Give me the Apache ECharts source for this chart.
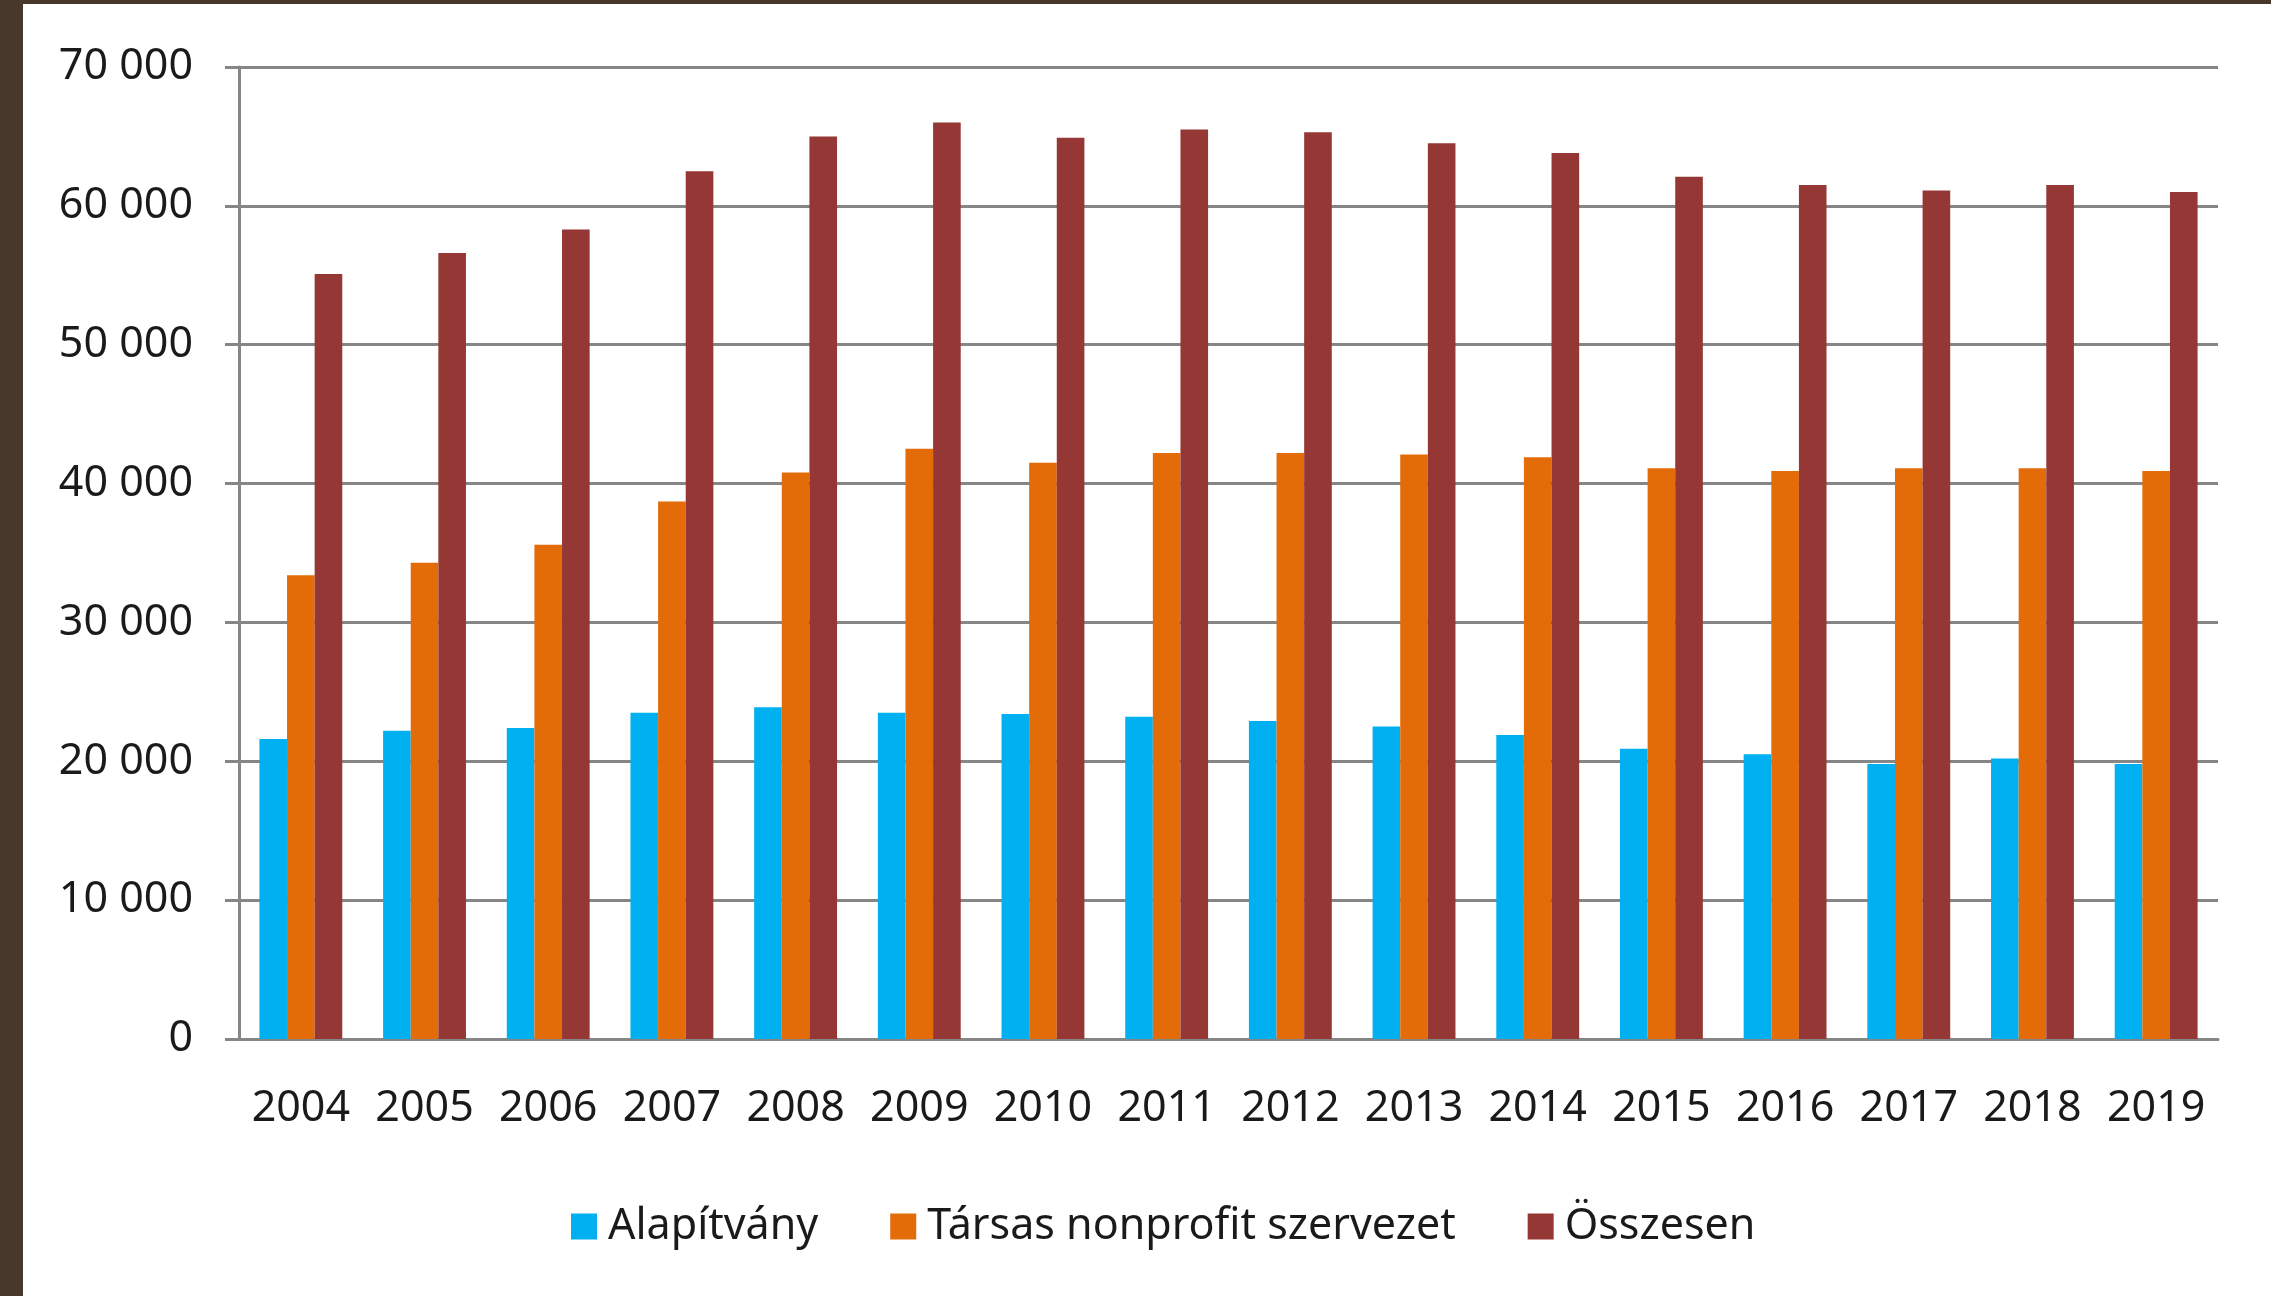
<!DOCTYPE html>
<html lang="hu">
<head>
<meta charset="utf-8">
<title>Nonprofit szervezetek</title>
<script src="https://cdn.jsdelivr.net/npm/echarts@6/dist/echarts.min.js"></script>
<style>
  html, body { margin: 0; padding: 0; background: #ffffff; }
  #frame {
    width: 2271px; height: 1296px; box-sizing: border-box;
    border-left: 23px solid #48382c; border-top: 4px solid #48382c;
  }
  #main { width: 2248px; height: 1292px; }
</style>
</head>
<body>
<div id="frame"><div id="main"></div></div>
<script>
// evek
var years = ['2004', '2005', '2006', '2007', '2008', '2009', '2010', '2011',
             '2012', '2013', '2014', '2015', '2016', '2017', '2018', '2019'];

var alapitvany = [21600, 22200, 22400, 23500, 23900, 23500, 23400, 23200,
                  22900, 22500, 21900, 20900, 20500, 19800, 20200, 19800];

var tarsas = [33400, 34300, 35600, 38700, 40800, 42500, 41500, 42200,
              42200, 42100, 41900, 41100, 40900, 41100, 41100, 40900];

var osszesen = [55100, 56600, 58300, 62500, 65000, 66000, 64900, 65500,
                65300, 64500, 63800, 62100, 61500, 61100, 61500, 61000];

var seriesNames = ['Alapítvány', 'Társas nonprofit szervezet', 'Összesen'];
var colors = ['#00b0f0', '#e36c09', '#953735'];

var font = "'Noto Sans', sans-serif";

function fmt(v) {
    return String(v).replace(/\B(?=(\d{3})+(?!\d))/g, ' ');
}

var myChart = echarts.init(document.getElementById('main'));

var option = {
    animation: false,
    backgroundColor: '#ffffff',
    color: colors,
    textStyle: { fontFamily: font },
    grid: { left: 216, right: 53, top: 63, bottom: 257 },
    legend: {
        left: 543,
        top: 1196,
        itemWidth: 26,
        itemHeight: 26,
        itemGap: 72,
        icon: 'rect',
        textStyle: { fontFamily: font, fontSize: 43, color: '#1a1a1a', padding: [0, 0, 0, 6] },
        data: seriesNames
    },
    xAxis: {
        type: 'category',
        data: years,
        axisLine: { lineStyle: { color: '#868686', width: 3 } },
        axisTick: { length: 18, lineStyle: { color: '#868686', width: 3 } },
        axisLabel: { interval: 0, margin: 48, fontSize: 43, color: '#1a1a1a', fontFamily: font }
    },
    yAxis: {
        type: 'value',
        min: 0,
        max: 70000,
        interval: 10000,
        axisLine: { show: true, lineStyle: { color: '#868686', width: 3 } },
        axisTick: { show: true, length: 14, lineStyle: { color: '#868686', width: 3 } },
        splitLine: { lineStyle: { color: '#868686', width: 3 } },
        axisLabel: { margin: 46, fontSize: 43, color: '#1a1a1a', fontFamily: font, formatter: fmt }
    },
    series: [
        { name: seriesNames[0], type: 'bar', data: alapitvany, barGap: '0%', barCategoryGap: '33%' },
        { name: seriesNames[1], type: 'bar', data: tarsas, barGap: '0%', barCategoryGap: '33%' },
        { name: seriesNames[2], type: 'bar', data: osszesen, barGap: '0%', barCategoryGap: '33%' }
    ]
};

myChart.setOption(option);
window.onresize = myChart.resize;
</script>
</body>
</html>
